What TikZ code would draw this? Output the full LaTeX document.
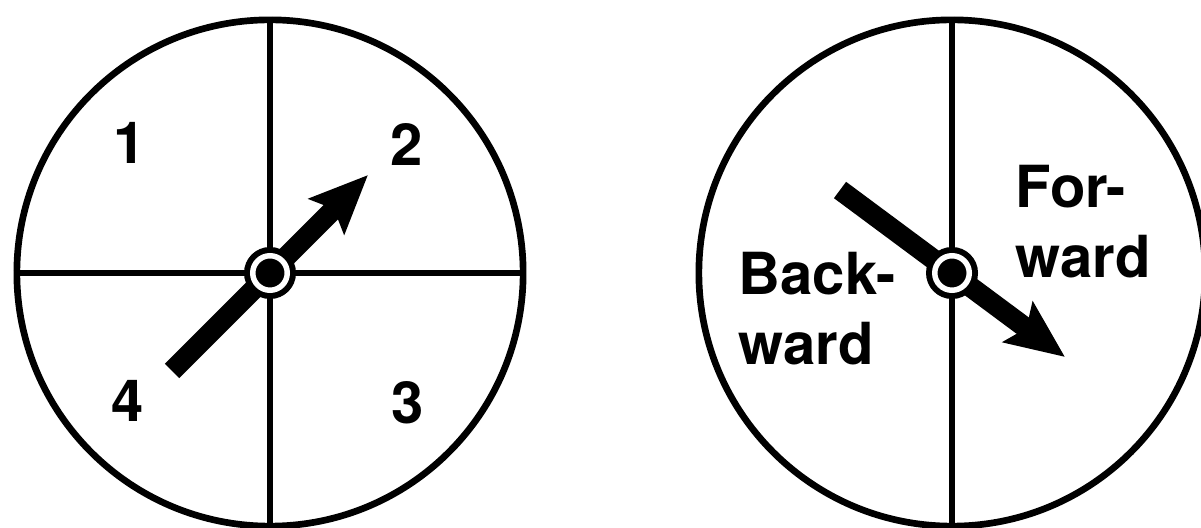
\documentclass[tikz,border=0pt]{standalone}
\usepackage{fontspec}
\setsansfont{TeX Gyre Heros}
\usetikzlibrary{positioning,arrows.meta,calc}
\tikzset{
  rim/.style    ={circle, draw=black, line width=1.9pt, minimum size=5.06cm,
                  inner sep=0pt},
  split/.style  ={draw=black, line width=1.5pt},
  needle/.style ={-{Stealth[length=5.8mm, width=4.9mm, inset=1mm]},
                  draw=black, line width=5.8pt},
  hubout/.style ={circle, fill=black, minimum size=5.2mm, inner sep=0pt},
  hubin/.style  ={circle, fill=black, draw=white, line width=1.56pt,
                  minimum size=3.45mm, inner sep=0pt},
  num/.style    ={font=\sffamily\bfseries\fontsize{16.5}{20}\selectfont,
                  inner sep=0pt},
  word/.style   ={font=\sffamily\bfseries\fontsize{16.5}{19.9}\selectfont,
                  align=left, inner sep=0pt, anchor=north west}
}
\begin{document}
\begin{tikzpicture}[x=0.01cm, y=-0.01cm]
\useasboundingbox (0,0) rectangle (1201,528);
% four-part spinner
\node[rim] (wl) at (270,273) {};
\draw[split] (wl.north) -- (wl.south);
\draw[split] (wl.west) -- (wl.east);
\node[num] (n1) at (130,143) {1};
\node[num] (n2) at (407,145) {2};
\node[num] (n3) at (408,403) {3};
\node[num] (n4) at (128,401) {4};
\coordinate (tl) at (172,371);
\coordinate (pl) at (368,175);
\draw[needle] (tl) -- (pl);
\node[hubout] (ol) at (wl.center) {};
\node[hubin] (il) at (wl.center) {};
% two-part spinner
\node[rim] (wr) at (952,273) {};
\draw[split] (wr.north) -- (wr.south);
\node[word] (bw) at (738,252) {Back-\\ward};
\node[word] (fw) at (1015,165) {For-\\ward};
\coordinate (tr) at (840,190);
\coordinate (pr) at (1065,357);
\draw[needle] (tr) -- (pr);
\node[hubout] (or) at (wr.center) {};
\node[hubin] (ir) at (wr.center) {};
\end{tikzpicture}
\end{document}
